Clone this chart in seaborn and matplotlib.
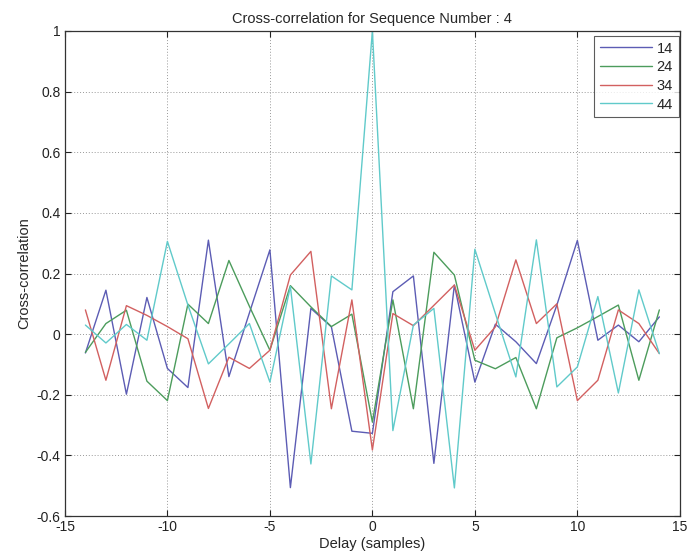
import numpy as np
import pandas as pd
import matplotlib
matplotlib.use("Agg")
import matplotlib.pyplot as plt
import seaborn as sns

delays = list(range(-14, 15))
series_names = ["14", "24", "34", "44"]

s14 = [-0.062, 0.145, -0.198, 0.121, -0.113, -0.176, 0.31, -0.14, 0.07, 0.278,
       -0.506, 0.085, 0.024, -0.32, -0.327, 0.14, 0.192, -0.426, 0.162, -0.158,
       0.033, -0.025, -0.097, 0.096, 0.309, -0.02, 0.03, -0.025, 0.057]
s24 = [-0.06, 0.035, 0.079, -0.155, -0.219, 0.099, 0.035, 0.243, 0.092, -0.053,
       0.16, 0.09, 0.025, 0.066, -0.29, 0.113, -0.246, 0.27, 0.195, -0.086,
       -0.114, -0.077, -0.246, -0.012, 0.021, 0.058, 0.096, -0.152, 0.08]
s34 = [0.08, -0.152, 0.094, 0.062, 0.025, -0.015, -0.245, -0.076, -0.113, -0.053,
       0.195, 0.273, -0.246, 0.113, -0.382, 0.068, 0.028, 0.095, 0.162, -0.053,
       0.024, 0.245, 0.035, 0.1, -0.219, -0.152, 0.08, 0.035, -0.064]
s44 = [0.03, -0.029, 0.032, -0.02, 0.306, 0.096, -0.098, -0.032, 0.035, -0.158,
       0.157, -0.428, 0.192, 0.146, 1.0, -0.318, 0.03, 0.085, -0.507, 0.28,
       0.068, -0.141, 0.311, -0.174, -0.108, 0.124, -0.194, 0.146, -0.064]

x_ticks = [-15, -10, -5, 0, 5, 10, 15]
x_tick_labels = ["-15", "-10", "-5", "0", "5", "10", "15"]
y_ticks = [-0.6, -0.4, -0.2, 0, 0.2, 0.4, 0.6, 0.8, 1.0]
y_tick_labels = ["-0.6", "-0.4", "-0.2", "0", "0.2", "0.4", "0.6", "0.8", "1"]

frames = []
for name, vals in zip(series_names, [s14, s24, s34, s44]):
    frames.append(pd.DataFrame({"Delay": delays, "Value": vals, "Series": name}))
df = pd.concat(frames, ignore_index=True)

sns.set_style("white")
plt.rcParams["font.family"] = ["Liberation Sans", "DejaVu Sans"]

palette = {"14": "#5c5cb4", "24": "#4c9c5c", "34": "#d26060", "44": "#60caca"}

fig = plt.figure(figsize=(6.98, 5.52), dpi=100)
ax = fig.add_axes([0.093, 0.065, 0.881, 0.879])

sns.lineplot(data=df, x="Delay", y="Value", hue="Series", palette=palette,
             linewidth=1.0, ax=ax, legend=True)

ax.set_xlim(-15, 15)
ax.set_ylim(-0.6, 1.0)
ax.set_xticks(x_ticks)
ax.set_xticklabels(x_tick_labels, fontsize=10)
ax.set_yticks(y_ticks)
ax.set_yticklabels(y_tick_labels, fontsize=10)
ax.tick_params(direction="in", length=4, width=0.8, top=True, right=True,
               bottom=True, left=True, colors="#222222", pad=3)
ax.grid(True, linestyle=(0, (1, 2)), color="#999999", linewidth=0.7)
for sp in ax.spines.values():
    sp.set_visible(True)
    sp.set_color("#333333")
    sp.set_linewidth(0.9)

ax.set_title("Cross-correlation for Sequence Number : 4", fontsize=10.5, pad=6)
ax.set_xlabel("Delay (samples)", fontsize=10.5, labelpad=2)
ax.set_ylabel("Cross-correlation", fontsize=10.5, labelpad=4)

leg = ax.legend(loc="upper right", fontsize=10.5, frameon=True, fancybox=False,
                edgecolor="#333333", borderpad=0.4, handlelength=3.6,
                handletextpad=0.3, labelspacing=0.32, borderaxespad=0.0,
                bbox_to_anchor=(0.998, 0.99))
leg.get_frame().set_linewidth(0.8)
leg.set_title(None)

fig.savefig("out.png", dpi=100)
